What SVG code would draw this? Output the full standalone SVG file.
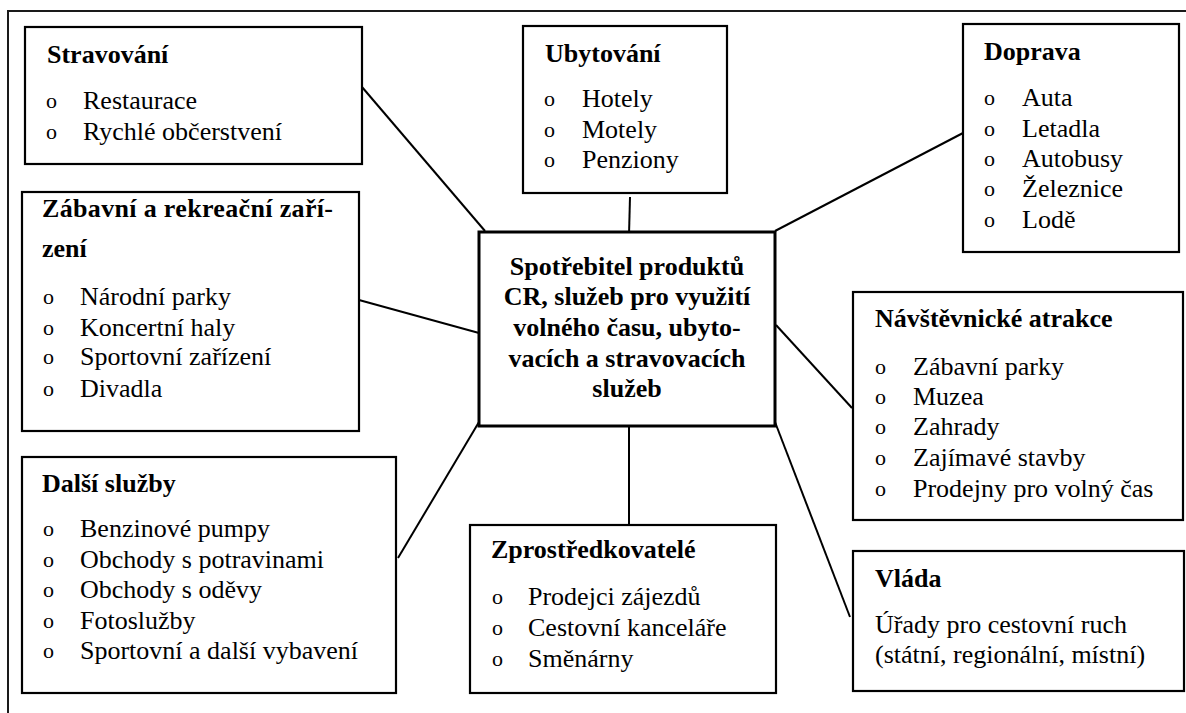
<svg xmlns="http://www.w3.org/2000/svg" width="1186" height="713" viewBox="0 0 1186 713">
<style>
.frame{fill:none;stroke:#1a1a1a;stroke-width:2}
.box{fill:#fff;stroke:#000;stroke-width:2.2}
.cbox{fill:#fff;stroke:#000;stroke-width:3}
.con{stroke:#000;stroke-width:2;fill:none}
.t{font-weight:bold}
.b{font-size:22px}
.c{font-weight:bold;text-anchor:middle}
</style>
<rect width="1186" height="713" fill="#fff"/>
<path class="frame" d="M8,713 V11 H1186"/>
<g id="connectors">
<line class="con" x1="362" y1="87" x2="485" y2="231"/>
<line class="con" x1="630" y1="197" x2="629" y2="235"/>
<line class="con" x1="775" y1="231" x2="963" y2="133"/>
<line class="con" x1="359" y1="300" x2="479" y2="333"/>
<line class="con" x1="776" y1="325" x2="852" y2="408"/>
<line class="con" x1="398" y1="558" x2="479" y2="422"/>
<line class="con" x1="629" y1="426" x2="629" y2="525"/>
<line class="con" x1="775" y1="422" x2="850" y2="617"/>
</g>
<g font-family="'Liberation Serif', Tinos, 'Times New Roman', 'DejaVu Serif', serif" font-size="26" fill="#000">
<g id="stravovani">
<rect class="box" x="25" y="27" width="337" height="137"/>
<text class="t" x="47" y="63">Stravování</text>
<text class="b" x="46" y="108">o</text><text x="83" y="109">Restaurace</text>
<text class="b" x="46" y="139">o</text><text x="83" y="140">Rychlé občerstvení</text>
</g>
<g id="ubytovani">
<rect class="box" x="523" y="26" width="204" height="167"/>
<text class="t" x="545" y="62">Ubytování</text>
<text class="b" x="544" y="106">o</text><text x="582" y="107">Hotely</text>
<text class="b" x="544" y="137">o</text><text x="582" y="138">Motely</text>
<text class="b" x="544" y="167">o</text><text x="582" y="168">Penziony</text>
</g>
<g id="doprava">
<rect class="box" x="963" y="24" width="216" height="228"/>
<text class="t" x="984" y="60">Doprava</text>
<text class="b" x="984" y="105">o</text><text x="1022" y="106">Auta</text>
<text class="b" x="984" y="136">o</text><text x="1022" y="137">Letadla</text>
<text class="b" x="984" y="166">o</text><text x="1022" y="167">Autobusy</text>
<text class="b" x="984" y="196">o</text><text x="1022" y="197">Železnice</text>
<text class="b" x="984" y="227">o</text><text x="1022" y="228">Lodě</text>
</g>
<g id="zabavni">
<rect class="box" x="22" y="192" width="337" height="239"/>
<text class="t" x="42" y="217" textLength="291" lengthAdjust="spacing">Zábavní a rekreační zaří-</text>
<text class="t" x="42" y="257">zení</text>
<text class="b" x="43" y="304">o</text><text x="80" y="305">Národní parky</text>
<text class="b" x="43" y="335">o</text><text x="80" y="336">Koncertní haly</text>
<text class="b" x="43" y="364">o</text><text x="80" y="365">Sportovní zařízení</text>
<text class="b" x="43" y="396">o</text><text x="80" y="397">Divadla</text>
</g>
<g id="spotrebitel">
<rect class="cbox" x="479" y="232" width="296" height="194"/>
<text class="c" x="627" y="275">Spotřebitel produktů</text>
<text class="c" x="627" y="305">CR, služeb pro využití</text>
<text class="c" x="627" y="336">volného času, ubyto-</text>
<text class="c" x="627" y="367">vacích a stravovacích</text>
<text class="c" x="627" y="397">služeb</text>
</g>
<g id="navstevnicke">
<rect class="box" x="853" y="292" width="330" height="228"/>
<text class="t" x="875" y="327">Návštěvnické atrakce</text>
<text class="b" x="875" y="374">o</text><text x="913" y="375">Zábavní parky</text>
<text class="b" x="875" y="404">o</text><text x="913" y="405">Muzea</text>
<text class="b" x="875" y="434">o</text><text x="913" y="435">Zahrady</text>
<text class="b" x="875" y="465">o</text><text x="913" y="466">Zajímavé stavby</text>
<text class="b" x="875" y="496">o</text><text x="913" y="497">Prodejny pro volný čas</text>
</g>
<g id="dalsi">
<rect class="box" x="22" y="457" width="374" height="236"/>
<text class="t" x="42" y="492">Další služby</text>
<text class="b" x="43" y="536">o</text><text x="80" y="537">Benzinové pumpy</text>
<text class="b" x="43" y="567">o</text><text x="80" y="568">Obchody s potravinami</text>
<text class="b" x="43" y="597">o</text><text x="80" y="598">Obchody s oděvy</text>
<text class="b" x="43" y="628">o</text><text x="80" y="629">Fotoslužby</text>
<text class="b" x="43" y="658">o</text><text x="80" y="659">Sportovní a další vybavení</text>
</g>
<g id="zprostredkovatele">
<rect class="box" x="470" y="525" width="306" height="168"/>
<text class="t" x="491" y="558">Zprostředkovatelé</text>
<text class="b" x="492" y="604">o</text><text x="528" y="605">Prodejci zájezdů</text>
<text class="b" x="492" y="635">o</text><text x="528" y="636">Cestovní kanceláře</text>
<text class="b" x="492" y="666">o</text><text x="528" y="667">Směnárny</text>
</g>
<g id="vlada">
<rect class="box" x="853" y="551" width="331" height="140"/>
<text class="t" x="875" y="587">Vláda</text>
<text x="875" y="633">Úřady pro cestovní ruch</text>
<text x="875" y="663">(státní, regionální, místní)</text>
</g>
</g>
</svg>
